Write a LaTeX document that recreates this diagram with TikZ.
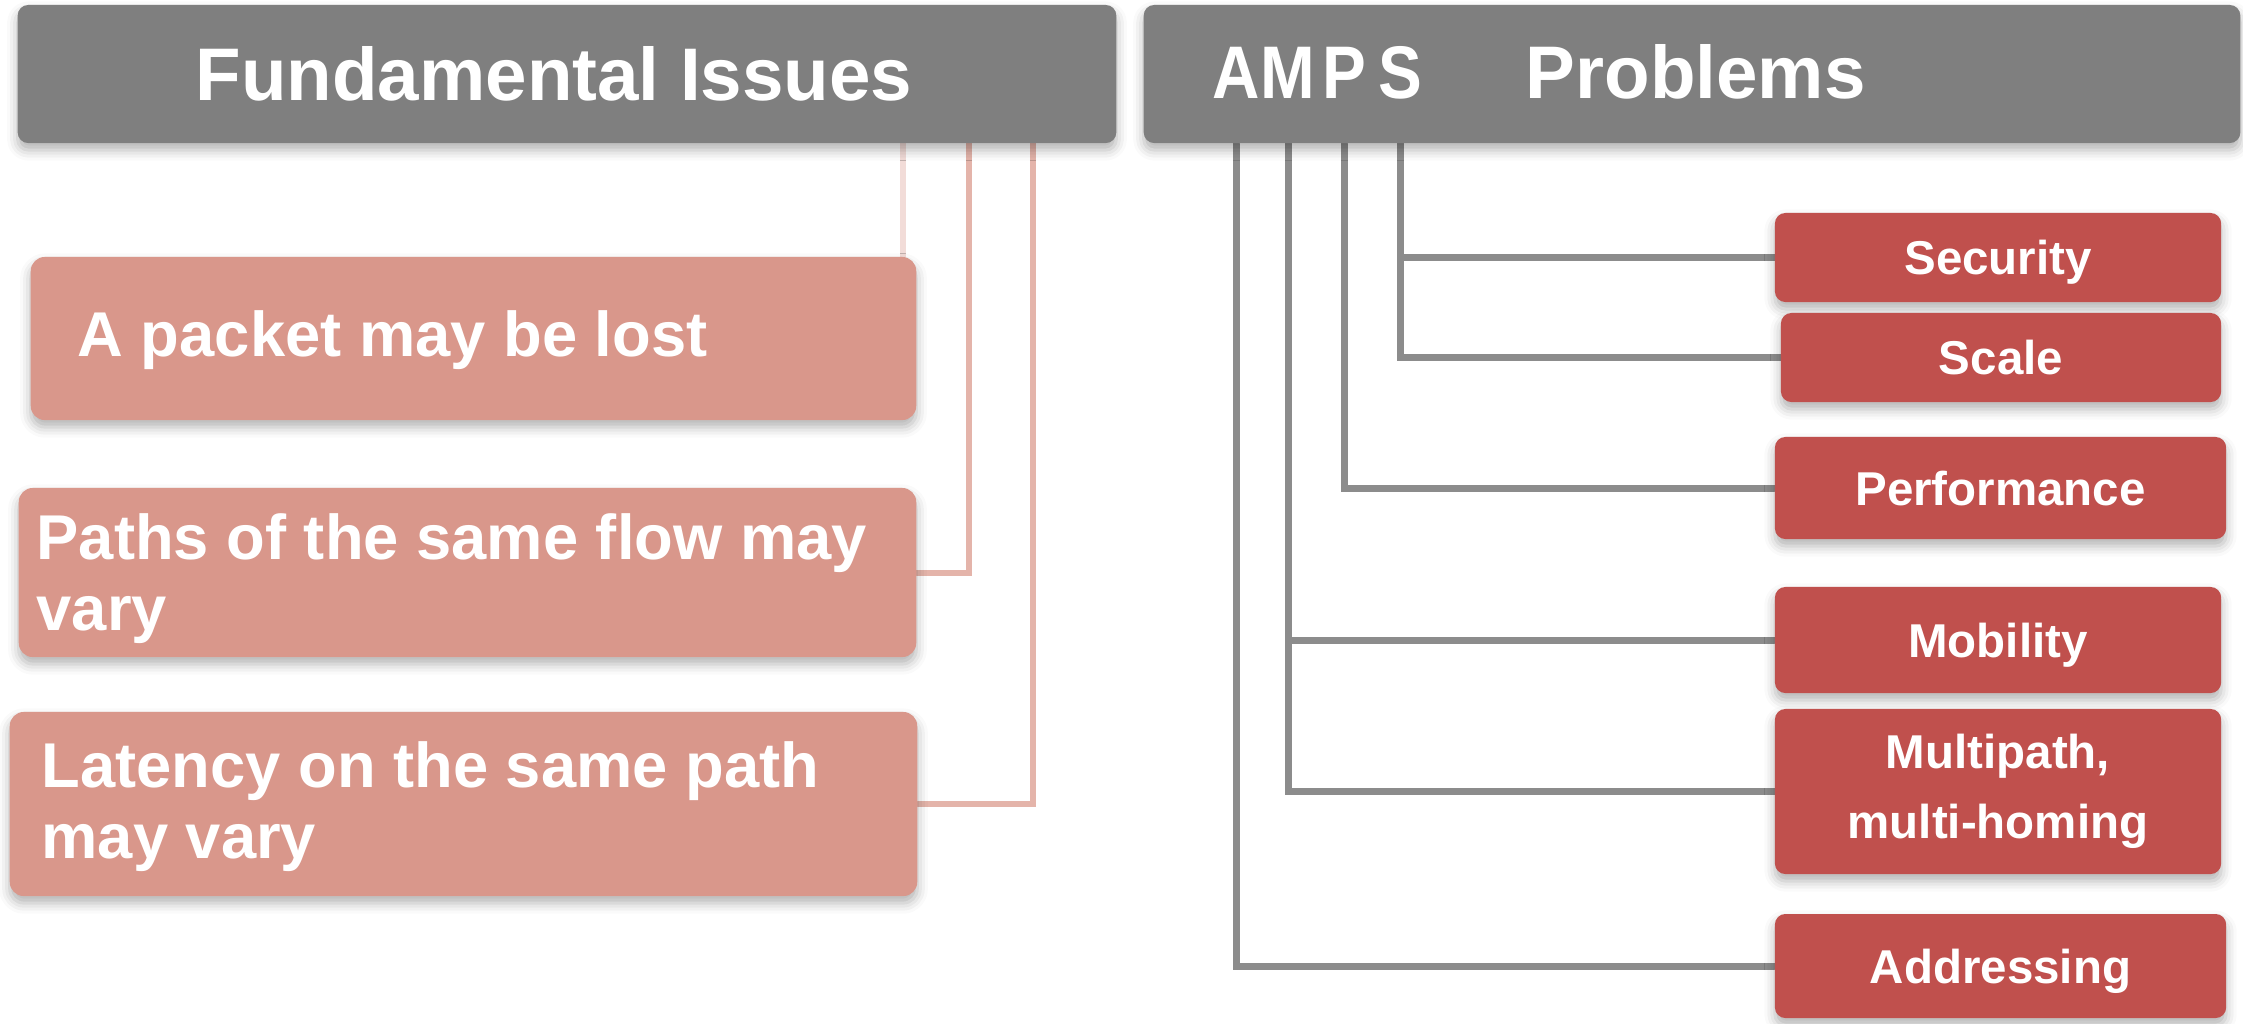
\documentclass[tikz,border=0pt]{standalone}
\usepackage{fontspec}
\setmainfont{Liberation Sans}
\usetikzlibrary{backgrounds,shadows.blur}

\definecolor{hdrgray}{HTML}{7F7F7F}
\definecolor{issuefill}{HTML}{D9978B}
\definecolor{probfill}{HTML}{C0504D}
\definecolor{linkgray}{HTML}{8C8C8C}
\definecolor{linkpink}{HTML}{E4B4AA}
\definecolor{linkpale}{HTML}{F2DCD8}

\newcommand{\narrow}[1]{\scalebox{0.88}[1]{#1}}

\begin{document}
\begin{tikzpicture}[x=0.01cm, y=-0.01cm, font=\bfseries, text=white,
  softshadow/.style={blur shadow={shadow xshift=0pt, shadow yshift=-2pt,
      shadow blur radius=3pt, shadow opacity=30}},
  header/.style={fill=hdrgray, rounded corners=3pt, inner sep=0pt,
      minimum height=1.38cm, softshadow},
  hdrtxt/.style={font=\fontsize{21.2}{25}\selectfont\bfseries, inner sep=0pt},
  issue/.style={fill=issuefill, rounded corners=4pt, inner sep=0pt, softshadow},
  issuetxt/.style={align=left, inner sep=0pt,
      font=\fontsize{18}{20}\selectfont\bfseries},
  problem/.style={fill=probfill, rounded corners=3pt, align=center,
      minimum width=4.46cm, inner sep=0pt, text height=9.7pt, text depth=0pt,
      font=\fontsize{13.5}{20}\selectfont\bfseries, softshadow},
  rlink/.style={draw=linkgray, line width=2pt, line cap=round},
  llink/.style={draw=linkpink, line width=1.7pt, line cap=round},
]
\useasboundingbox (0,0) rectangle (2243,1023);

% ---- headers ----
\node[header, minimum width=10.98cm] (hdrL) at (567,74) {};
\node[hdrtxt, anchor=base] (fund) at (554,100) {Fundamental Issues};
\node[header, minimum width=10.96cm] (hdrR) at (1692,74) {};
\node[hdrtxt, anchor=base] (lA) at (1236,98) {\narrow{A}};
\node[hdrtxt, anchor=base] (lM) at (1288,98) {\narrow{M}};
\node[hdrtxt, anchor=base] (lP) at (1344,98) {\narrow{P}};
\node[hdrtxt, anchor=base] (lS) at (1400,98) {\narrow{S}};
\node[hdrtxt, anchor=base west] (probs) at (1525,98) {Problems};

% ---- fundamental issues (base anchor = baseline of the last line) ----
\node[issue, minimum width=8.85cm, minimum height=1.63cm] (loss) at (473.5,338.5) {};
\node[issue, minimum width=8.97cm, minimum height=1.69cm] (paths) at (467.5,572.5) {};
\node[issue, minimum width=9.07cm, minimum height=1.84cm] (latency) at (463.5,804) {};
\node[issuetxt, anchor=base west] (lossT) at (77,356) {A packet may be lost};
\node[issuetxt, anchor=base west] (pathsT) at (36,630) {Paths of the same flow may\\vary};
\node[issuetxt, anchor=base west] (latencyT) at (41,858) {Latency on the same path\\may vary};

% ---- AMPS problems ----
\node[problem, minimum height=0.89cm] (sec) at (1998,257.5) {Security};
\node[problem, minimum width=4.40cm, minimum height=0.89cm] (scale) at (2001,357.5) {Scale};
\node[problem, minimum width=4.51cm, minimum height=1.02cm] (perf) at (2000.5,488) {Performance};
\node[problem, minimum height=1.06cm] (mob) at (1998,640) {Mobility};
\node[problem, minimum height=1.65cm, text height={}, text depth={}] (multi) at (1998,791.5) {Multipath,\\multi-homing};
\node[problem, minimum width=4.51cm, minimum height=1.04cm] (addr) at (2000.5,966) {Addressing};

% drop points of the issue links under the left header
\coordinate (k1) at (903,0);
\coordinate (k2) at (969,0);
\coordinate (k3) at (1033,0);

\begin{pgfonlayer}{background}
  % issue links
  \draw[llink, draw=linkpale] (hdrL.south -| k1) -- (loss.north -| k1);
  \draw[llink] (hdrL.south -| k2) |- (paths.east);
  \draw[llink] (hdrL.south -| k3) |- (latency.east);
  % problem links, one trunk per letter
  \draw[rlink] (hdrR.south -| lS) |- (sec.west);
  \draw[rlink] (hdrR.south -| lS) |- (scale.west);
  \draw[rlink] (hdrR.south -| lP) |- (perf.west);
  \draw[rlink] (hdrR.south -| lM) |- (mob.west);
  \draw[rlink] (hdrR.south -| lM) |- (multi.west);
  \draw[rlink] (hdrR.south -| lA) |- (addr.west);
\end{pgfonlayer}
\end{tikzpicture}
\end{document}
